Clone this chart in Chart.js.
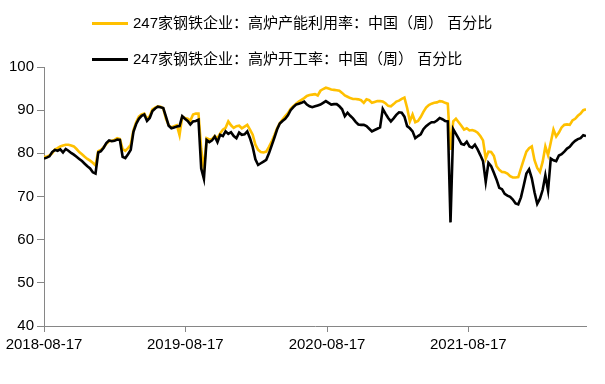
<!DOCTYPE html>
<html>
<head>
<meta charset="utf-8">
<script src="https://cdn.jsdelivr.net/npm/chart.js@4.4.1/dist/chart.umd.min.js"></script>
<style>
html,body{margin:0;padding:0;background:#fff;}
#wrap{position:relative;width:605px;height:384px;}
#legend{position:absolute;left:92px;top:0;font-family:"Liberation Sans","Noto Sans CJK SC",sans-serif;font-size:15px;color:#000;}
.li{position:absolute;left:0;white-space:nowrap;height:18px;line-height:18px;}
.sw{display:inline-block;width:36px;height:3px;vertical-align:middle;margin-right:5px;position:relative;top:-1px;}
</style>
</head>
<body>
<div id="wrap">
<canvas id="c" width="605" height="384"></canvas>
<div id="legend"></div>
</div>
<script>
const seriesNames = ['247家钢铁企业：高炉产能利用率：中国（周） 百分比', '247家钢铁企业：高炉开工率：中国（周） 百分比'];
const seriesColors = ['#FFC000', '#000000'];
const startDate = '2018-08-17';
const tickLabels = ['2018-08-17', '2019-08-17', '2020-08-17', '2021-08-17'];
const yTicks = [40, 50, 60, 70, 80, 90, 100];

const utilization = [
79.2,79.2,79.5,80.0,80.9,81.2,81.6,81.8,82.0,82.0,
81.8,81.6,81.0,80.3,79.8,79.2,78.7,78.3,77.8,77.2,
80.5,80.8,81.4,82.2,82.8,82.9,83.1,83.5,83.3,81.0,
80.6,81.2,82.0,85.4,87.2,88.5,89.0,89.2,88.0,88.6,
90.2,90.6,90.9,90.8,90.4,88.0,86.5,86.0,86.3,86.5,
84.2,88.5,88.2,88.0,87.6,89.0,89.2,89.2,81.0,76.1,
83.5,83.2,83.3,84.0,83.5,84.6,85.5,85.9,87.4,86.5,
85.9,86.3,86.4,85.8,86.2,86.6,85.5,84.3,82.0,80.8,
80.3,80.2,80.4,81.5,82.7,84.2,85.8,87.0,87.8,88.6,
89.3,90.3,90.9,91.5,92.0,92.4,92.8,93.3,93.5,93.6,
93.7,93.4,94.5,94.9,95.2,95.0,94.8,94.7,94.6,94.5,
94.0,93.4,93.1,92.8,92.6,92.6,92.5,92.3,91.7,92.5,
92.3,91.7,91.9,92.1,92.1,92.0,91.6,91.0,90.9,91.4,
92.0,92.2,92.6,92.9,90.5,87.4,89.0,87.2,87.5,88.4,
89.6,90.6,91.2,91.5,91.7,91.8,92.1,92.0,91.7,91.5,
80.8,87.4,88.0,87.2,86.4,85.5,85.8,85.3,85.4,85.2,
84.8,84.0,83.0,78.8,80.4,80.3,79.4,77.0,76.2,75.7,
75.6,75.3,74.7,74.4,74.4,74.5,76.5,78.5,80.4,81.2,
81.6,78.4,76.6,75.7,78.0,81.6,79.6,82.5,85.5,83.9,
84.8,86.0,86.6,86.7,86.6,87.6,88.0,88.7,89.2,90.0,
90.2];

const operating = [
78.8,79.0,79.3,80.3,80.8,80.6,80.9,80.2,81.0,80.6,
80.1,79.7,79.2,78.7,78.2,77.6,77.0,76.5,75.6,75.3,
80.2,80.5,81.3,82.4,83.0,82.8,82.9,83.2,83.1,79.2,
78.9,79.8,80.8,85.0,86.8,88.0,88.7,89.0,87.5,88.2,
89.8,90.4,90.8,90.7,90.5,88.5,86.4,85.8,86.0,86.2,
86.3,88.6,88.0,87.5,86.7,87.4,87.5,87.8,76.5,74.1,
83.1,82.6,83.0,83.9,82.6,84.3,84.0,85.1,84.5,84.9,
84.0,83.5,84.8,84.3,84.4,85.1,83.5,81.5,78.6,77.3,
77.7,78.1,78.5,80.0,81.8,83.6,85.5,86.9,87.5,88.0,
88.8,90.0,90.7,91.3,91.5,91.7,92.0,91.3,90.9,90.7,
90.9,91.1,91.3,91.7,92.1,91.7,91.3,91.4,91.4,90.9,
90.2,88.6,89.4,88.7,88.1,87.3,86.7,86.6,86.6,86.3,
85.7,85.1,85.4,85.7,86.0,90.3,89.2,88.2,87.4,88.1,
88.9,89.5,89.4,88.5,86.3,85.8,85.1,83.5,84.0,84.4,
85.6,86.3,86.8,87.2,87.2,87.6,88.2,87.9,87.5,87.4,
64.0,85.6,84.5,83.4,82.2,82.0,82.7,81.6,81.3,82.0,
80.9,79.6,78.2,73.4,77.8,77.0,75.5,73.9,72.0,71.7,
70.6,70.2,69.9,69.3,68.4,68.2,69.8,72.5,75.3,76.3,
74.2,71.0,68.3,69.5,71.5,74.9,71.4,78.8,78.4,78.2,
79.5,79.8,80.4,81.1,81.5,82.3,82.9,83.3,83.5,84.2,
84.0];

const DAY = 86400000;
const t0 = Date.parse(startDate + 'T00:00:00Z');
const dayOf = s => Math.round((Date.parse(s + 'T00:00:00Z') - t0) / DAY);
const tickDays = tickLabels.map(dayOf);
const toPoints = arr => arr.map((v, i) => ({x: i * 7, y: v}));
const lastDay = (utilization.length - 1) * 7;

const axisGray = '#868686';
const tickFont = {family: '"Liberation Sans", Arial, sans-serif', size: 15};

new Chart(document.getElementById('c'), {
  type: 'line',
  data: {
    datasets: [
      {label: seriesNames[0], data: toPoints(utilization), borderColor: seriesColors[0], backgroundColor: seriesColors[0], borderWidth: 2.6, pointRadius: 0, tension: 0, order: 1},
      {label: seriesNames[1], data: toPoints(operating), borderColor: seriesColors[1], backgroundColor: seriesColors[1], borderWidth: 2.6, pointRadius: 0, tension: 0, order: 0}
    ]
  },
  options: {
    responsive: false,
    animation: false,
    layout: {padding: {top: 67, left: 6, right: 19, bottom: 26}},
    plugins: {legend: {display: false}, tooltip: {enabled: false}},
    scales: {
      x: {
        type: 'linear', min: 0, max: lastDay,
        afterBuildTicks: s => { s.ticks = tickDays.map(v => ({value: v})); },
        ticks: {autoSkip: false, maxRotation: 0, color: '#000', font: tickFont, padding: 4,
          callback: (v) => { const k = tickDays.indexOf(v); return k >= 0 ? tickLabels[k] : ''; }},
        grid: {drawOnChartArea: false, drawTicks: true, tickLength: 6, color: axisGray},
        border: {color: axisGray, width: 1}
      },
      y: {
        min: yTicks[0], max: yTicks[yTicks.length - 1],
        afterBuildTicks: s => { s.ticks = yTicks.map(v => ({value: v})); },
        ticks: {color: '#000', font: tickFont, padding: 3},
        grid: {drawOnChartArea: false, drawTicks: true, tickLength: 7, color: axisGray},
        border: {color: axisGray, width: 1}
      }
    }
  }
});

const leg = document.getElementById('legend');
const rowTops = [14, 50];
seriesNames.forEach((n, i) => {
  const d = document.createElement('div');
  d.className = 'li';
  d.style.top = rowTops[i] + 'px';
  const sw = document.createElement('span');
  sw.className = 'sw';
  sw.style.background = seriesColors[i];
  d.appendChild(sw);
  d.appendChild(document.createTextNode(n));
  leg.appendChild(d);
});
</script>
</body>
</html>
